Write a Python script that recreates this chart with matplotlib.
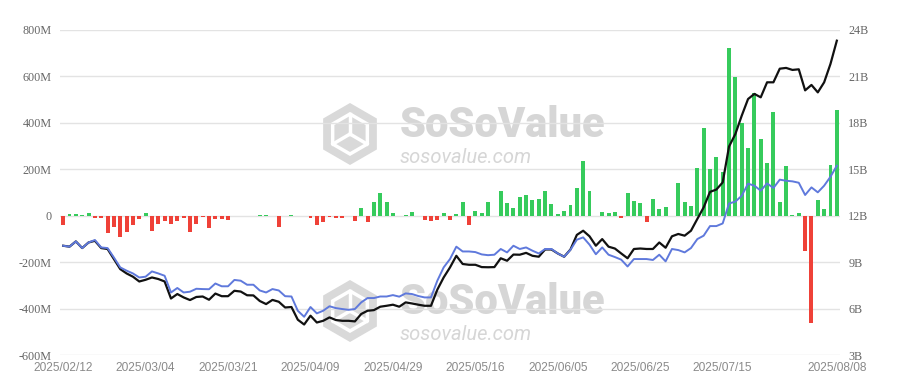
import matplotlib
matplotlib.use("Agg")
import matplotlib.pyplot as plt
from matplotlib.patches import RegularPolygon
import numpy as np
import pandas as pd

# trading days (US market holidays removed)
holidays = ["2025-02-17", "2025-04-18", "2025-05-26", "2025-06-19", "2025-07-04"]
dates = pd.bdate_range("2025-02-12", "2025-08-08", freq="C", holidays=holidays)

# daily total net inflow, million USD
net_inflow = [
    -40, 8, 7, 1, 13, -10, -10, -76, -50, -93, -69, -40, -14, 10, -65, -36, -21, -36, -21, -10,
    -72, -36, -7, -53, -14, -14, -18, 0, -3, -3, -3, 3, 3, -3, -50, -3, 1, 0, -3, -10,
    -38, -29, -5, -8, -8, 0, -24, 33, -26, 57, 98, 57, 11, 0, 4, 14, 0, -18, -21, -17,
    10, -17, 7, 57, -40, 19, 10, 60, 0, 108, 53, 33, 82, 89, 67, 72, 105, 52, 8, 22,
    47, 119, 234, 108, -1, 17, 10, 14, -10, 96, 65, 55, -25, 72, 27, 36, -2, 142, 57, 43,
    205, 378, 201, 254, 187, 723, 596, 398, 292, 529, 331, 227, 448, 60, 213, 4, 10, -152, -464, 68,
    31, 218, 455,
]

# total net assets, billion USD (black line, right axis)
net_assets = [
    10.06, 10.00, 10.34, 9.91, 10.27, 10.38, 9.91, 9.85, 9.20, 8.55, 8.27, 8.06, 7.75, 7.86, 8.01, 7.91, 7.75, 6.65, 6.94, 6.72,
    6.55, 6.75, 6.78, 6.57, 6.97, 6.80, 6.80, 7.15, 7.10, 6.86, 6.85, 6.49, 6.29, 6.56, 6.44, 6.07, 6.10, 5.28, 4.97, 5.54,
    5.10, 5.21, 5.43, 5.26, 5.21, 5.21, 5.17, 5.65, 5.86, 5.90, 6.12, 6.18, 6.25, 6.12, 6.40, 6.33, 6.25, 6.18, 6.18, 7.22,
    8.01, 8.66, 9.41, 8.88, 8.83, 8.83, 8.68, 8.67, 8.68, 9.25, 9.09, 9.49, 9.48, 9.60, 9.41, 9.35, 9.82, 9.82, 9.56, 9.35,
    9.82, 10.76, 11.03, 10.67, 10.06, 10.49, 10.00, 9.88, 9.56, 9.25, 9.85, 9.88, 9.85, 9.85, 10.27, 9.93, 10.67, 10.82, 10.71, 11.03,
    11.79, 12.54, 13.54, 13.69, 14.15, 16.47, 17.28, 18.46, 19.54, 19.87, 19.65, 20.62, 20.62, 21.50, 21.55, 21.42, 21.46, 20.10, 20.45, 19.97,
    20.62, 21.81, 23.31,
]

# ETH price, drawn on the right-axis scale (blue line)
eth_price = [
    10.06, 10.00, 10.34, 9.91, 10.27, 10.43, 9.95, 9.91, 9.30, 8.66, 8.45, 8.27, 8.01, 8.06, 8.40, 8.27, 8.12, 7.04, 7.33, 7.04,
    7.09, 7.28, 7.26, 7.25, 7.62, 7.44, 7.44, 7.85, 7.80, 7.54, 7.54, 7.17, 7.04, 7.26, 7.17, 6.80, 6.78, 5.86, 5.47, 6.10,
    5.69, 5.86, 6.15, 6.03, 5.97, 5.92, 5.97, 6.40, 6.68, 6.68, 6.78, 6.78, 6.87, 6.77, 6.98, 6.94, 6.81, 6.72, 6.72, 7.80,
    8.66, 9.20, 10.00, 9.69, 9.69, 9.65, 9.50, 9.45, 9.48, 9.85, 9.63, 10.06, 9.85, 9.95, 9.74, 9.56, 9.85, 9.85, 9.56, 9.35,
    9.80, 10.45, 10.60, 10.13, 9.51, 9.95, 9.48, 9.33, 9.16, 8.72, 9.20, 9.20, 9.20, 9.14, 9.48, 9.05, 9.85, 9.78, 9.63, 9.91,
    10.49, 10.71, 11.33, 11.33, 11.50, 12.79, 12.91, 13.29, 14.07, 13.94, 13.62, 14.09, 13.79, 14.33, 14.26, 14.22, 14.13, 13.34, 13.83, 13.51,
    13.94, 14.52, 15.23,
]

left_ticks = [-600, -400, -200, 0, 200, 400, 600, 800]
left_labels = ["-600M", "-400M", "-200M", "0", "200M", "400M", "600M", "800M"]
right_ticks = [3, 6, 9, 12, 15, 18, 21, 24]
right_labels = ["3B", "6B", "9B", "12B", "15B", "18B", "21B", "24B"]

GREEN = "#36CB5C"
RED = "#EF4138"

W, H = 902, 385
fig = plt.figure(figsize=(W / 100, H / 100), dpi=100, facecolor="white")

# watermark layer in pixel coordinates, behind the chart
wm = fig.add_axes([0, 0, 1, 1], zorder=-1)
wm.set_xlim(0, W)
wm.set_ylim(H, 0)
wm.axis("off")


def watermark(cx, cy):
    wm.add_patch(RegularPolygon((cx, cy), 6, radius=31, facecolor="#D9D9D9", edgecolor="none"))
    wm.add_patch(RegularPolygon((cx, cy), 6, radius=20, facecolor="none", edgecolor="white", lw=2.5))
    wm.plot([cx, cx], [cy - 20, cy], color="white", lw=2.5)
    wm.plot([cx - 17, cx], [cy + 10, cy], color="white", lw=2.5)
    wm.plot([cx, cx + 17], [cy, cy + 10], color="white", lw=2.5)
    wm.text(cx + 50, cy + 3, "SoSoValue", fontsize=30, fontweight="heavy", family="Roboto",
            color="#D6D6D6", ha="left", va="baseline")
    wm.text(cx + 50, cy + 29, "sosovalue.com", fontsize=14.5, style="italic", family="Roboto",
            color="#D6D6D6", ha="left", va="baseline")


watermark(350, 134)
watermark(350, 311)

ax = fig.add_axes([60 / W, 1 - 355 / H, 780 / W, 325 / H])
ax.patch.set_visible(False)
x = np.arange(len(dates))
colors = [GREEN if v >= 0 else RED for v in net_inflow]
ax.bar(x, net_inflow, width=0.62, color=colors, zorder=2)
ax.set_xlim(-0.5, len(dates) - 0.5)
ax.set_ylim(-600, 800)
ax.set_yticks(left_ticks)
ax.set_yticklabels(left_labels, family="Liberation Serif", fontsize=8.7, color="#666666")
ax.yaxis.grid(True, color="#E3E3E3", lw=1)
ax.set_axisbelow(True)

# every 13th trading day, plus the last one
tick_idx = list(range(0, len(dates) - 13, 13)) + [len(dates) - 1]
ax.set_xticks(tick_idx)
ax.set_xticklabels([dates[i].strftime("%Y/%m/%d") for i in tick_idx],
                   family="Liberation Sans", fontsize=8.6, color="#8A8A8A")
ax.tick_params(length=0)
ax.tick_params(axis="x", pad=5)
ax.tick_params(axis="y", pad=6)
for s in ax.spines.values():
    s.set_visible(False)

ax2 = ax.twinx()
ax2.plot(x, net_assets, color="#111111", lw=1.6, zorder=3)
ax2.plot(x, eth_price, color="#5F79DC", lw=1.4, zorder=4)
ax2.set_ylim(3, 24)
ax2.set_yticks(right_ticks)
ax2.set_yticklabels(right_labels, family="Liberation Serif", fontsize=8.7, color="#666666")
ax2.tick_params(length=0, pad=6)
for s in ax2.spines.values():
    s.set_visible(False)

fig.savefig("out.png", dpi=100, facecolor="white")
